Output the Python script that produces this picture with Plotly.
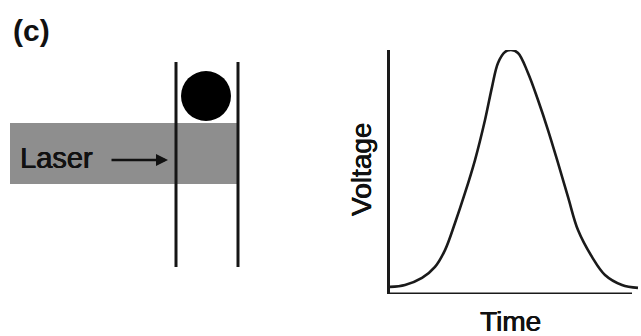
import plotly.graph_objects as go

W, H = 641, 336

# --- Right panel: detector signal ---
time_vals = [0.0, 0.6, 1.28, 1.8, 2.2, 2.6, 3.0, 3.4, 3.8, 4.08, 4.32, 4.6, 4.84,
             5.12, 5.52, 5.92, 6.32, 6.72, 7.12, 7.52, 8.08, 8.6, 9.28, 9.92]
voltage_vals = [0.029, 0.037, 0.066, 0.111, 0.180, 0.291, 0.414, 0.549, 0.713, 0.848,
                0.947, 0.992, 1.0, 0.988, 0.906, 0.795, 0.672, 0.537, 0.398, 0.262,
                0.152, 0.078, 0.037, 0.025]
time_axis_end = 9.68

# --- Left panel: schematic geometry (in pixel-like units) ---
beam_x = [10, 238, 238, 10, 10]
beam_y = [123, 123, 184, 184, 123]
wall_left_x = [176, 176]
wall_right_x = [238, 238]
wall_y = [62, 267]
particle_x = [206]
particle_y = [96]

fig = go.Figure()

# laser beam
fig.add_trace(go.Scatter(x=beam_x, y=beam_y, xaxis="x3", yaxis="y3", mode="lines",
                         fill="toself", fillcolor="#8e8e8e", line=dict(width=0),
                         hoverinfo="skip", showlegend=False))
# channel walls
for wx in (wall_left_x, wall_right_x):
    fig.add_trace(go.Scatter(x=wx, y=wall_y, xaxis="x3", yaxis="y3", mode="lines",
                             line=dict(color="#151515", width=3),
                             hoverinfo="skip", showlegend=False))
# particle
fig.add_trace(go.Scatter(x=particle_x, y=particle_y, xaxis="x3", yaxis="y3", mode="markers",
                         marker=dict(size=50, color="#000000", line=dict(width=0)),
                         hoverinfo="skip", showlegend=False, cliponaxis=False))

# signal curve
fig.add_trace(go.Scatter(x=time_vals, y=voltage_vals, mode="lines",
                         line=dict(color="#1a1a1a", width=2.6, shape="spline", smoothing=1.0),
                         hoverinfo="skip", showlegend=False))

x_dom = [390 / W, 640 / W]
y_dom = [(H - 294) / H, (H - 50) / H]

heavy = "0.5px 0 0 #111, -0.3px 0 0 #111"

fig.update_layout(
    width=W, height=H,
    margin=dict(l=0, r=0, t=0, b=0),
    paper_bgcolor="white", plot_bgcolor="rgba(0,0,0,0)",
    font=dict(family="Liberation Sans, Arial, sans-serif", color="#111"),
    xaxis=dict(domain=x_dom, range=[0, 10], showgrid=False, zeroline=False,
               showticklabels=False, ticks="", showline=False),
    yaxis=dict(domain=y_dom, range=[0, 1], showgrid=False, zeroline=False,
               showticklabels=False, ticks="", showline=True, linecolor="#1a1a1a",
               linewidth=3, anchor="x"),
    xaxis3=dict(domain=[0, 320 / W], range=[0, 320], visible=False, anchor="y3"),
    yaxis3=dict(domain=[0, 1], range=[H, 0], visible=False, anchor="x3"),
    shapes=[dict(type="line", xref="x", yref="y", x0=0, x1=time_axis_end, y0=0, y1=0,
                 line=dict(color="#1a1a1a", width=3))],
    annotations=[
        dict(text="<b>(c)</b>", x=11 / W, y=1 - 30 / H, xref="paper", yref="paper",
             xanchor="left", yanchor="middle", showarrow=False, font=dict(size=30)),
        dict(text="Laser", x=18, y=158, xref="x3", yref="y3", xanchor="left",
             yanchor="middle", showarrow=False, font=dict(size=29, shadow=heavy)),
        dict(text="", x=168, y=160, ax=110, ay=160, xref="x3", yref="y3",
             axref="x3", ayref="y3", showarrow=True, arrowhead=2, arrowsize=1,
             arrowwidth=2.4, arrowcolor="#111"),
        dict(text="Voltage", x=361 / W, y=1 - 170 / H, xref="paper", yref="paper",
             xanchor="center", yanchor="middle", textangle=-90, showarrow=False,
             font=dict(size=28, shadow=heavy)),
        dict(text="Time", x=510 / W, y=1 - 321 / H, xref="paper", yref="paper",
             xanchor="center", yanchor="middle", showarrow=False,
             font=dict(size=28, shadow=heavy)),
    ],
)

fig.write_html(
    "out.html",
    config={"displayModeBar": False},
    post_script="document.body.style.margin='0';document.body.style.overflow='hidden';",
)
